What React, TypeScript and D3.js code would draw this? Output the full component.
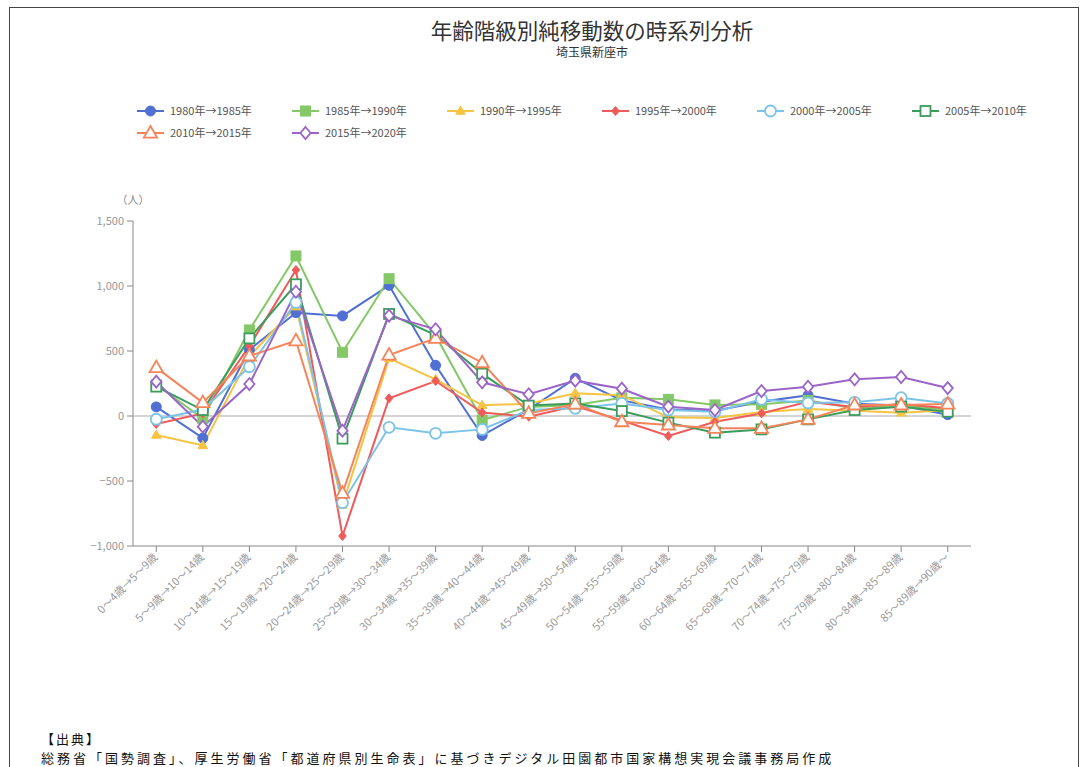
import React from "react";
import * as d3 from "d3";

const categories = [
  "0～4歳→5～9歳", "5～9歳→10～14歳", "10～14歳→15～19歳", "15～19歳→20～24歳",
  "20～24歳→25～29歳", "25～29歳→30～34歳", "30～34歳→35～39歳", "35～39歳→40～44歳",
  "40～44歳→45～49歳", "45～49歳→50～54歳", "50～54歳→55～59歳", "55～59歳→60～64歳",
  "60～64歳→65～69歳", "65～69歳→70～74歳", "70～74歳→75～79歳", "75～79歳→80～84歳",
  "80～84歳→85～89歳", "85～89歳→90歳～",
];

const s1980 = [70, -170, 510, 795, 770, 1005, 390, -150, 50, 290, 120, 50, 40, 110, 159, 95, 80, 10];
const s1985 = [240, -20, 662, 1231, 490, 1056, 620, -31, 70, 85, 140, 128, 85, 90, 120, 60, 80, 50];
const s1990 = [-146, -226, 458, 841, -685, 443, 282, 82, 95, 175, 160, -10, -15, 30, 53, 40, 25, 45];
const s1995 = [-62, 20, 538, 1123, -923, 136, 269, 26, -5, 77, -35, -154, -44, 20, 110, 70, 92, 60];
const s2000 = [-25, 50, 379, 874, -667, -87, -133, -103, 46, 59, 97, 46, 33, 128, 100, 105, 141, 97];
const s2005 = [226, 46, 597, 1013, -174, 785, 623, 326, 80, 97, 38, -51, -128, -103, -26, 46, 72, 33];
const s2010 = [372, 103, 462, 579, -595, 469, 597, 410, 20, 92, -44, -69, -95, -95, -26, 85, 85, 92];
const s2015 = [264, -82, 246, 956, -113, 772, 667, 259, 167, 272, 210, 72, 46, 192, 225, 282, 300, 215];

const seriesNames = [
  "1980年→1985年", "1985年→1990年", "1990年→1995年", "1995年→2000年",
  "2000年→2005年", "2005年→2010年", "2010年→2015年", "2015年→2020年",
];
const seriesValues = [s1980, s1985, s1990, s1995, s2000, s2005, s2010, s2015];
const colors = ["#4f6fd3", "#84c868", "#f6c342", "#ef5b5b", "#7cc3e8", "#3c9c5c", "#f5845a", "#9b64c8"];
const symbols = ["circle", "square", "triangle", "diamond", "circle", "square", "triangle", "diamond"];
const hollow = [false, false, false, false, true, true, true, true];

const yTicks = [-1000, -500, 0, 500, 1000, 1500];

const FONT = "'Noto Sans CJK JP', 'Noto Sans', sans-serif";

function Marker({ x, y, sym, color, open }: { x: number; y: number; sym: string; color: string; open: boolean }) {
  const fill = open ? "#fff" : color;
  const sw = open ? 1.8 : 1;
  if (sym === "circle") return <circle cx={x} cy={y} r={open ? 5.5 : 5} fill={fill} stroke={color} strokeWidth={sw} />;
  if (sym === "square") {
    const s = 10;
    return <rect x={x - s / 2} y={y - s / 2} width={s} height={s} fill={fill} stroke={color} strokeWidth={sw} />;
  }
  if (sym === "triangle") {
    const r = open ? 7 : 5;
    const p = `${x},${y - r} ${x + r * 0.95},${y + r * 0.65} ${x - r * 0.95},${y + r * 0.65}`;
    return <polygon points={p} fill={fill} stroke={color} strokeWidth={sw} />;
  }
  const r = open ? 6 : 4.5;
  const p = `${x},${y - r} ${x + r * 0.85},${y} ${x},${y + r} ${x - r * 0.85},${y}`;
  return <polygon points={p} fill={fill} stroke={color} strokeWidth={sw} />;
}

export default function App() {
  const W = 1088, H = 767;
  const left = 133, right = 971, top = 221, bottom = 546;
  const x = d3.scalePoint<string>().domain(categories).range([left, right]).padding(0.5);
  const y = d3.scaleLinear().domain([-1000, 1500]).range([bottom, top]);
  const line = d3.line<number>().x((_, i) => x(categories[i]) as number).y((d) => y(d));

  const legendItems = seriesNames.map((n, i) => ({
    name: n,
    lx: 137 + (i % 6) * 155,
    ly: i < 6 ? 111 : 133,
    i,
  }));

  return (
    <svg width={W} height={H} style={{ position: "absolute", left: 0, top: 0, fontFamily: FONT }}>
      <rect x={0} y={0} width={W} height={H} fill="#fff" />
      <rect x={9.5} y={7.5} width={1069} height={780} fill="none" stroke="#444" strokeWidth={1} />
      <text x={592} y={39} textAnchor="middle" fontSize={21.5} fill="#333">年齢階級別純移動数の時系列分析</text>
      <text x={592} y={57} textAnchor="middle" fontSize={12} fill="#333">埼玉県新座市</text>

      {legendItems.map((it) => (
        <g key={it.name}>
          <line x1={it.lx} x2={it.lx + 27} y1={it.ly} y2={it.ly} stroke={colors[it.i]} strokeWidth={2} />
          <Marker x={it.lx + 13.5} y={it.ly} sym={symbols[it.i]} color={colors[it.i]} open={hollow[it.i]} />
          <text x={it.lx + 33} y={it.ly + 4} fontSize={11} fill="#555">{it.name}</text>
        </g>
      ))}

      <text x={133} y={204} textAnchor="middle" fontSize={11} fill="#888">（人）</text>
      <line x1={left} x2={left} y1={top} y2={bottom} stroke="#888" />
      {yTicks.map((t) => (
        <g key={t}>
          <line x1={left - 6} x2={left} y1={y(t)} y2={y(t)} stroke="#888" />
          <text x={left - 9} y={y(t) + 4} textAnchor="end" fontSize={11} fill="#999">{d3.format(",")(t)}</text>
        </g>
      ))}
      <line x1={left} x2={right} y1={y(0)} y2={y(0)} stroke="#aaa" strokeWidth={1.2} />
      <line x1={left} x2={right} y1={bottom} y2={bottom} stroke="#888" />
      {categories.map((c) => (
        <g key={c} transform={`translate(${x(c)},${bottom})`}>
          <line y1={0} y2={6} stroke="#888" />
          <text transform="translate(2,12) rotate(-45)" textAnchor="end" fontSize={11} fill="#999">{c}</text>
        </g>
      ))}

      {seriesValues.map((vals, i) => (
        <g key={i}>
          <path d={line(vals) || ""} fill="none" stroke={colors[i]} strokeWidth={2} />
        </g>
      ))}
      {seriesValues.map((vals, i) => (
        <g key={"m" + i}>
          {vals.map((v, j) => (
            <Marker key={j} x={x(categories[j]) as number} y={y(v)} sym={symbols[i]} color={colors[i]} open={hollow[i]} />
          ))}
        </g>
      ))}

      <text x={41} y={744} fontSize={13} fill="#111" letterSpacing={2}>【出典】</text>
      <text x={41} y={763} fontSize={13} fill="#111" letterSpacing={3}>総務省「国勢調査」、厚生労働省「都道府県別生命表」に基づきデジタル田園都市国家構想実現会議事務局作成</text>
    </svg>
  );
}
